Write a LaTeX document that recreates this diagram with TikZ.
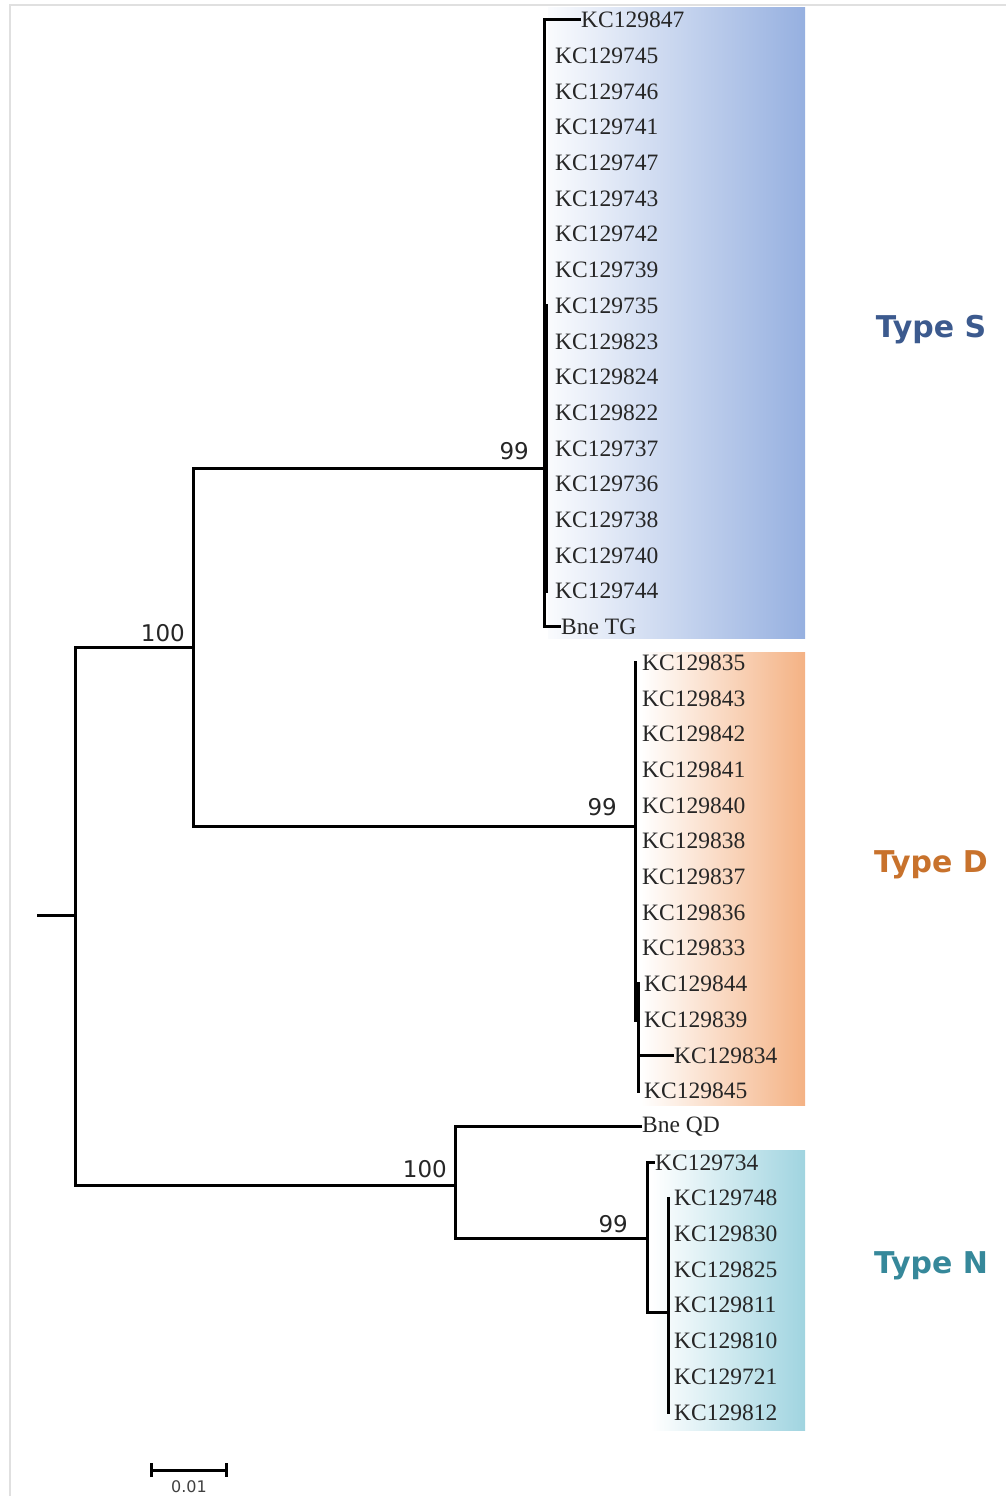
\documentclass[tikz,border=0pt]{standalone}
\usepackage{fontspec}
\setmainfont{Liberation Serif}
\newfontfamily\bootfont{DejaVu Sans}
\usetikzlibrary{arrows.meta}
\definecolor{typeS}{RGB}{60,90,142}
\definecolor{typeD}{RGB}{200,114,44}
\definecolor{typeN}{RGB}{54,136,154}
\definecolor{bandS}{RGB}{150,176,224}
\definecolor{bandD}{RGB}{244,178,132}
\definecolor{bandN}{RGB}{160,212,224}
\begin{document}
\begin{tikzpicture}[x=1pt,y=-1pt,line cap=rect,>=stealth]
    \tikzstyle{branch}=[line width=3pt, black]
    \tikzstyle{tip}=[anchor=west, inner sep=2pt, text=black!85, font=\fontsize{23.5}{24}\selectfont]
    \tikzstyle{boot}=[anchor=south east, inner sep=0pt, text=black!85, font=\bootfont\fontsize{23}{24}\selectfont]
    \tikzstyle{typelab}=[anchor=base, font=\bootfont\bfseries\fontsize{30}{30}\selectfont]
    \useasboundingbox (0,0) rectangle (1005,1496);
    \draw[black!12, line width=2pt] (10,1496) -- (10,5) -- (1005,5);
    \shade[left color=bandS!5, middle color=bandS!35, right color=bandS] (548,8) rectangle (805,638);
    \shade[left color=white, middle color=bandD!30, right color=bandD] (641,652) rectangle (805,1105);
    \shade[left color=white, middle color=bandN!35, right color=bandN] (651,1150) rectangle (805,1430);
    \foreach \tx/\lab [count=\i from 0] in {579/KC129847, 553/KC129745, 553/KC129746, 553/KC129741,
        553/KC129747, 553/KC129743, 553/KC129742, 553/KC129739, 553/KC129735, 553/KC129823,
        553/KC129824, 553/KC129822, 553/KC129737, 553/KC129736, 553/KC129738, 553/KC129740,
        553/KC129744, 559/Bne TG, 640/KC129835, 640/KC129843, 640/KC129842, 640/KC129841,
        640/KC129840, 640/KC129838, 640/KC129837, 640/KC129836, 640/KC129833, 642/KC129844,
        642/KC129839, 672/KC129834, 642/KC129845, 640/Bne QD, 653/KC129734, 672/KC129748,
        672/KC129830, 672/KC129825, 672/KC129811, 672/KC129810, 672/KC129721, 672/KC129812}
        \node[tip] (t\i) at (\tx,{20+35.7*\i}) {\lab};
    \coordinate (stub) at (38,915);
    \coordinate (root) at (75,915);
    \coordinate (nA) at (193,647);
    \coordinate (nB) at (455,1185);
    \coordinate (nS) at (544,468);
    \coordinate (nS2) at (546.5,448);
    \coordinate (nD) at (635,826);
    \coordinate (nD2) at (638,1020);
    \coordinate (nN) at (647,1238);
    \coordinate (nN2) at (668,1312);
    \draw[branch] (stub) -- (root);
    \draw[branch] (root) |- (nA);
    \draw[branch] (root) |- (nB);
    \draw[branch] (nA) |- (nS);
    \draw[branch] (nA) |- (nD);
    \draw[branch] (nS) |- (nS2);
    \draw[branch] (nD) |- (nD2);
    \draw[branch] (nB) |- (t31.west);
    \draw[branch] (nB) |- (nN);
    \draw[branch] (nN) |- (nN2);
    \draw[branch] (nS) |- (t0.west);
    \draw[branch] (nS) |- (t17.west);
    \draw[branch] (nD2) |- (t29.west);
    \draw[branch] (nN) |- (t32.west);
    \foreach \i in {1,...,7} \draw[branch] (nS) -- (nS |- t\i.west);
    \foreach \i in {8,...,16} \draw[branch] (nS2) -- (nS2 |- t\i.west);
    \foreach \i in {18,...,26} \draw[branch] (nD) -- (nD |- t\i.west);
    \foreach \i in {27,28,30} \draw[branch] (nD2) -- (nD2 |- t\i.west);
    \foreach \i in {33,...,39} \draw[branch] (nN2) -- (nN2 |- t\i.west);
    \node[boot] (bA) at (185,642) {100};
    \node[boot] (bS) at (529,460) {99};
    \node[boot] (bD) at (617,816) {99};
    \node[boot] (bB) at (447,1178) {100};
    \node[boot] (bN) at (628,1233) {99};
    \node[typelab, text=typeS] (labS) at (931,337) {Type S};
    \node[typelab, text=typeD] (labD) at (931,872) {Type D};
    \node[typelab, text=typeN] (labN) at (931,1273) {Type N};
    \coordinate (sbL) at (150,1470);
    \coordinate (sbR) at (228,1470);
    \draw[branch, line cap=butt, {Bar[width=14pt]}-{Bar[width=14pt]}] (sbL) -- (sbR);
    \node[text=black!75, font=\bootfont\fontsize{16}{16}\selectfont] (sbText) at (189,1487) {0.01};
\end{tikzpicture}
\end{document}
